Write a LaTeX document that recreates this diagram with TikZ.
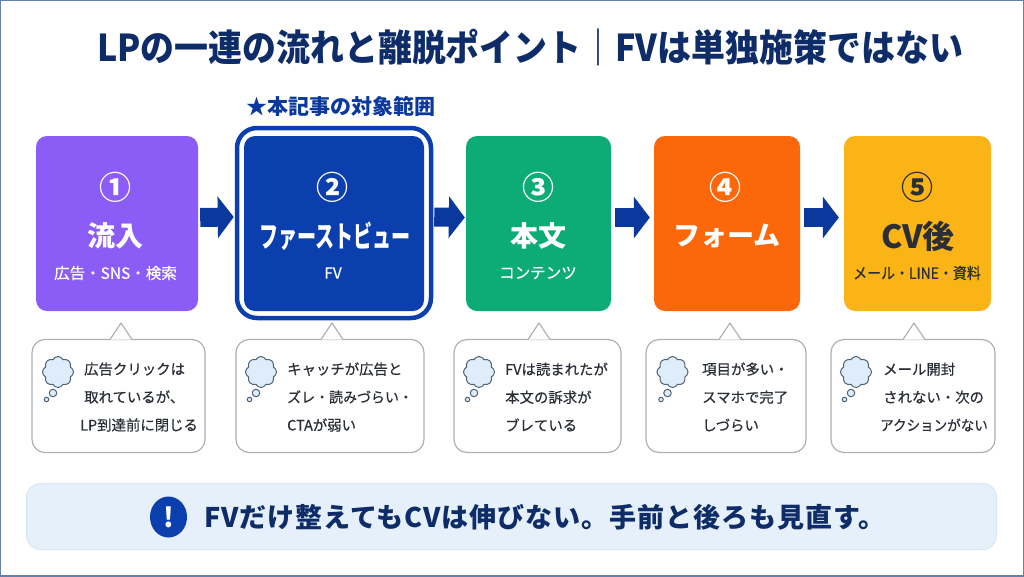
\documentclass[tikz,border=0pt]{standalone}
\usepackage{fontspec}
\usetikzlibrary{arrows.meta,shapes.geometric,shapes.symbols}
\newfontfamily\cjk{Noto Sans CJK JP}
\newfontfamily\cjkmed{Noto Sans CJK JP}[FakeBold=0.5]
\newfontfamily\cjkwide{Noto Sans CJK JP}[LetterSpace=3.5]
\newcommand{\boxhigh}{175}
\definecolor{navy}{HTML}{0E2C68}
\definecolor{fvblue}{HTML}{0B3FAE}
\definecolor{arrowblue}{HTML}{0B389C}
\definecolor{inkdark}{HTML}{2A2E36}
\definecolor{bordergrey}{HTML}{ABB0B5}
\definecolor{pagerule}{HTML}{6580AC}
\definecolor{cloudline}{HTML}{4F6478}
\definecolor{cloudfill}{HTML}{DFECFA}
\definecolor{inflowviolet}{HTML}{8B5CF6}
\definecolor{bodygreen}{HTML}{0DAB76}
\definecolor{formorange}{HTML}{FC670A}
\definecolor{afteryellow}{HTML}{FAB416}
\definecolor{barfill}{HTML}{E6F0FB}
\definecolor{barline}{HTML}{D8E6F6}
\tikzset{
    stepbox/.style={rectangle, rounded corners=11pt, minimum height=\boxhigh pt, inner sep=0pt},
    framebox/.style={rectangle, draw=fvblue, line width=4.5pt, rounded corners=20pt, inner sep=0pt, minimum width=194pt, minimum height=190pt},
    stepnum/.style={text=white, font=\cjk\bfseries\fontsize{32}{36}\selectfont},
    stepname/.style={text=white, font=\cjk\bfseries\fontsize{28}{32}\selectfont},
    stepsub/.style={text=white, font=\cjkmed\fontsize{15.5}{18}\selectfont},
    flowarrow/.style={draw=arrowblue, line width=19pt, -{Triangle[length=16pt,width=41pt]}},
    notebox/.style={rectangle, draw=bordergrey, line width=1.2pt, fill=white, rounded corners=13pt, minimum height=113pt, inner sep=0pt},
    notetip/.style={draw=bordergrey, line width=1.2pt, fill=white, line join=round},
    notetext/.style={anchor=west, align=left, inner sep=0pt, text=inkdark, font=\cjkmed\fontsize{14.4}{28}\selectfont},
    thought/.style={draw=cloudline, line width=1pt, fill=cloudfill},
}
\begin{document}
\begin{tikzpicture}[x=1pt, y=-1pt]
    \useasboundingbox (0,0) rectangle (1024,576);
    \draw[draw=pagerule, fill=white, line width=2pt] (0,0) rectangle (1024,576);

    % Title.
    \node[text=navy, font=\cjk\bfseries\fontsize{37}{40}\selectfont] (title) at (530,47)
        {\scalebox{0.917}[1]{LPの一連の流れと離脱ポイント｜FVは単独施策ではない}};
    \node[text=arrowblue, font=\cjk\bfseries\fontsize{21}{24}\selectfont] (scope) at (340.5,106) {★本記事の対象範囲};

    % Step boxes.
    \node[stepbox, fill=inflowviolet, minimum width=162pt] (box1) at (117,223.5) {};
    \node[stepbox, fill=fvblue, minimum width=180pt] (box2) at (334,223.5) {};
    \node[framebox] (frame2) at (334,223) {};
    \node[stepbox, fill=bodygreen, minimum width=145pt] (box3) at (538.5,223.5) {};
    \node[stepbox, fill=formorange, minimum width=146pt] (box4) at (727,223.5) {};
    \node[stepbox, fill=afteryellow, minimum width=147pt] (box5) at (917.5,223.5) {};

    % Numbers.
    \node[stepnum] (num1) at (115,187) {①};
    \node[stepnum] (num2) at (332,187) {②};
    \node[stepnum] (num3) at (538,187) {③};
    \node[stepnum] (num4) at (725,187) {④};
    \node[stepnum, text=inkdark] (num5) at (917,187) {⑤};

    % Names.
    \node[stepname] (name1) at (115,236) {流入};
    \node[stepname] (name2) at (335,236) {\scalebox{0.68}[1.05]{ファーストビュー}};
    \node[stepname] (name3) at (538,236) {本文};
    \node[stepname, font=\cjk\bfseries\fontsize{27}{32}\selectfont] (name4) at (727,236) {フォーム};
    \node[stepname, text=inkdark, font=\cjk\bfseries\fontsize{32}{36}\selectfont] (name5) at (918,236) {CV後};

    % Sub labels.
    \node[stepsub] (sub1) at (115.5,273) {広告・SNS・検索};
    \node[stepsub] (sub2) at (333,273) {FV};
    \node[stepsub] (sub3) at (538,273) {コンテンツ};
    \node[stepsub, text=inkdark] (sub5) at (917,273) {\scalebox{0.9}[1]{メール・LINE・資料}};

    % Arrows between steps.
    \draw[flowarrow, shorten <=2pt, shorten >=1pt] ([yshift=6pt]box1.east) -- ([yshift=6pt]frame2.west);
    \draw[flowarrow, shorten <=1pt, shorten >=1pt] ([yshift=6pt]frame2.east) -- ([yshift=6pt]box3.west);
    \draw[flowarrow, shorten <=4pt, shorten >=4pt] ([yshift=6pt]box3.east) -- ([yshift=6pt]box4.west);
    \draw[flowarrow, shorten <=4pt, shorten >=5pt] ([yshift=6pt]box4.east) -- ([yshift=6pt]box5.west);

    % Notes under the steps.
    \node[notebox, minimum width=173pt] (note1) at (118.5,396) {};
    \node[notebox, minimum width=188pt] (note2) at (330,396) {};
    \node[notebox, minimum width=167pt] (note3) at (537.5,396) {};
    \node[notebox, minimum width=160pt] (note4) at (726,396) {};
    \node[notebox, minimum width=164pt] (note5) at (913,396) {};

    % Tips and thought clouds.
    \foreach \n/\tipx/\cloudx in {1/121/58, 2/332/261, 3/539/479, 4/730/672.5, 5/914/856} {
        \draw[notetip] (\tipx-11,339.5) -- (\tipx,323) -- (\tipx+11,339.5);
        \node[cloud, cloud puffs=8, cloud puff arc=130, aspect=1, thought, minimum width=31pt, minimum height=31pt, inner sep=0pt] (cloud\n) at (\cloudx,372) {};
        \node[circle, thought, minimum size=7.5pt, inner sep=0pt] (dotA\n) at (\cloudx-5,393) {};
        \node[circle, thought, minimum size=4.5pt, inner sep=0pt] (dotB\n) at (\cloudx-11.5,399.5) {};
    }

    % Note texts.
    \node[notetext] (text1) at (84,397) {広告クリックは\\取れているが、\\\hspace*{-4pt}LP到達前に閉じる};
    \node[notetext] (text2) at (287,397) {キャッチが広告と\\\scalebox{0.97}[1]{ズレ・読みづらい・}\\CTAが弱い};
    \node[notetext] (text3) at (505,397) {FVは読まれたが\\本文の訴求が\\ブレている};
    \node[notetext] (text4) at (702,397) {項目が多い・\\スマホで完了\\しづらい};
    \node[notetext] (text5) at (883,397) {メール開封\\されない・次の\\\hspace*{-3pt}\scalebox{0.94}[1]{アクションがない}};

    % Bottom message.
    \node[rectangle, draw=barline, fill=barfill, line width=1pt, rounded corners=14pt, minimum width=970pt, minimum height=66pt] (bar) at (511.5,516.5) {};
    \node[ellipse, fill=fvblue, minimum width=37pt, minimum height=41pt, inner sep=0pt, text=white, font=\cjk\bfseries\fontsize{27}{30}\selectfont] (mark) at (168.5,517) {!};
    \node[anchor=west, text=navy, font=\cjkwide\bfseries\fontsize{27}{30}\selectfont] (message) at (201,517) {FVだけ整えてもCVは伸びない。手前と後ろも見直す。};
\end{tikzpicture}
\end{document}
